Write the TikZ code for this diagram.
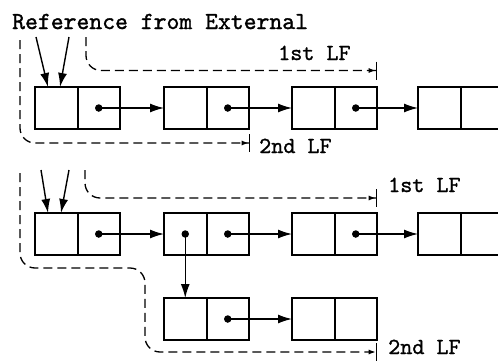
\documentclass[tikz,border=0pt]{standalone}
\usepackage{fontspec}
\setmonofont{lmmono10-regular.otf}[FakeBold=1.2]
\usetikzlibrary{arrows.meta}
\begin{document}
\begin{tikzpicture}[x=1pt,y=-1pt,
  cell/.style={draw, line width=2pt, minimum width=42.5pt, minimum height=42pt, inner sep=0pt, outer sep=0pt},
  ptr/.style={line width=1.4pt, -{Latex[length=14pt,width=9pt]}},
  ptrdot/.style={circle, fill, inner sep=0pt, minimum size=7.5pt},
  lfline/.style={line width=1.3pt, dash pattern=on 9pt off 5pt, rounded corners=15pt,
    -{Latex[length=7pt,width=5pt]Bar[width=18pt,line width=1.3pt]}},
  lab/.style={font=\fontsize{23}{26}\selectfont\ttfamily, anchor=base west, inner sep=0pt}]
\useasboundingbox (0,0) rectangle (498,364);
\clip (0,0) rectangle (498,364);

% row 1
\node[cell] (a1l) at (56.25,108) {};  \node[cell] (a1r) at (98.75,108) {};
\node[cell] (a2l) at (185.25,108) {}; \node[cell] (a2r) at (227.75,108) {};
\node[cell] (a3l) at (313.25,108) {}; \node[cell] (a3r) at (355.75,108) {};
\node[cell] (a4l) at (439.25,108) {}; \node[cell] (a4r) at (481.75,108) {};
\node[ptrdot] (da1) at (a1r.center) {};
\node[ptrdot] (da2) at (a2r.center) {};
\node[ptrdot] (da3) at (a3r.center) {};
\draw[ptr] (da1.center) -- (a2l.west);
\draw[ptr] (da2.center) -- (a3l.west);
\draw[ptr] (da3.center) -- (a4l.west);

% row 2
\node[cell] (b1l) at (56.25,234) {};  \node[cell] (b1r) at (98.75,234) {};
\node[cell] (b2l) at (185.25,234) {}; \node[cell] (b2r) at (227.75,234) {};
\node[cell] (b3l) at (313.25,234) {}; \node[cell] (b3r) at (355.75,234) {};
\node[cell] (b4l) at (439.25,234) {}; \node[cell] (b4r) at (481.75,234) {};
\node[ptrdot] (db1) at (b1r.center) {};
\node[ptrdot] (db2d) at (b2l.center) {};
\node[ptrdot] (db2) at (b2r.center) {};
\node[ptrdot] (db3) at (b3r.center) {};
\draw[ptr] (db1.center) -- (b2l.west);
\draw[ptr] (db2.center) -- (b3l.west);
\draw[ptr] (db3.center) -- (b4l.west);

% row 3
\node[cell] (c1l) at (185.25,319) {}; \node[cell] (c1r) at (227.75,319) {};
\node[cell] (c2l) at (313.25,319) {}; \node[cell] (c2r) at (355.75,319) {};
\node[ptrdot] (dc1) at (c1r.center) {};
\draw[ptr] (db2d.center) -- (c1l.north);
\draw[ptr] (dc1.center) -- (c2l.west);

% labels
\node[lab, font=\fontsize{24.5}{27}\selectfont\ttfamily] (ref) at (12,29) {Reference from External};
\node[lab] (lf11) at (278,60) {1st LF};
\node[lab] (lf12) at (259,153) {2nd LF};
\node[lab] (lf21) at (388,192) {1st LF};
\node[lab] (lf22) at (388,354) {2nd LF};

% external references
\coordinate (s1) at (36,37);  \coordinate (e1) at (48,87);
\coordinate (s2) at (69,37);  \coordinate (e2) at (60,87);
\coordinate (s3) at (41,170); \coordinate (e3) at (48,213);
\coordinate (s4) at (69,170); \coordinate (e4) at (61,213);
\draw[ptr] (s1) -- (e1);
\draw[ptr] (s2) -- (e2);
\draw[ptr] (s3) -- (e3);
\draw[ptr] (s4) -- (e4);

% dashed extents
\draw[lfline] (86,37) -- (86,70.5) -- (377,70.5);
\draw[lfline] (20,40) -- (20,143) -- (250,143);
\draw[lfline] (85,170) -- (85,198) -- (377,198);
\draw[lfline] (20,173) -- (20,268) -- (145,268) -- (145,352) -- (377,352);
\end{tikzpicture}
\end{document}
